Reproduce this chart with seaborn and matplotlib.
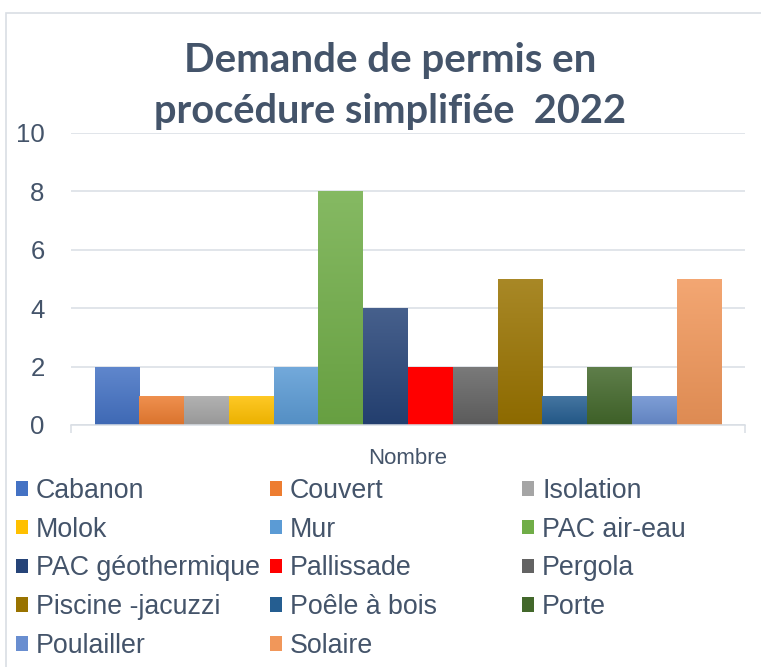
import numpy as np
import pandas as pd
import matplotlib
matplotlib.use("Agg")
import matplotlib.pyplot as plt
import matplotlib.patches as mpatches
from matplotlib.colors import LinearSegmentedColormap, to_rgb
import seaborn as sns

# ---- data ----
categories = ["Cabanon", "Couvert", "Isolation", "Molok", "Mur", "PAC air-eau",
              "PAC géothermique", "Pallissade", "Pergola", "Piscine -jacuzzi",
              "Poêle à bois", "Porte", "Poulailler", "Solaire"]
values = [2, 1, 1, 1, 2, 8, 4, 2, 2, 5, 1, 2, 1, 5]
series_label = "Nombre"
title_line1 = "Demande de permis en"
title_line2 = "procédure simplifiée  2022"
yticks = [0, 2, 4, 6, 8, 10]

# ---- style ----
base_colors = ["#4472C4", "#ED7D31", "#A5A5A5", "#FFC000", "#5B9BD5", "#70AD47",
               "#264478", "#FF0000", "#636363", "#997300", "#255E91", "#43682B",
               "#698ED0", "#F1975A"]
text_color = "#44546A"
grid_color = "#D9DEE4"

sns.set_theme(style="white")
plt.rcParams["font.family"] = ["Liberation Sans", "DejaVu Sans"]

W, H = 761, 667
fig = plt.figure(figsize=(W / 100, H / 100), dpi=100)
ax = fig.add_axes([71 / W, 1 - 425 / H, (745 - 71) / W, (425 - 133) / H])

df = pd.DataFrame({"serie": [series_label] * len(categories),
                   "categorie": categories, "valeur": values})
sns.barplot(data=df, x="serie", y="valeur", hue="categorie",
            hue_order=categories, palette=dict(zip(categories, base_colors)),
            width=0.93, saturation=1, legend=False, ax=ax, linewidth=0)

# gradient fill (Excel style) clipped to each bar
def mix(c, other, t):
    c = np.array(to_rgb(c)); o = np.array(to_rgb(other))
    return tuple(c * (1 - t) + o * t)

grad = np.linspace(0, 1, 256).reshape(-1, 1)
for patch, col in zip(ax.patches, base_colors):
    x, w, h = patch.get_x(), patch.get_width(), patch.get_height()
    if col.upper() == "#FF0000":
        continue
    cmap = LinearSegmentedColormap.from_list("g", [mix(col, "black", 0.08), mix(col, "white", 0.15)])
    im = ax.imshow(grad, extent=[x, x + w, 0, h], origin="lower", aspect="auto",
                   cmap=cmap, zorder=patch.get_zorder() + 0.1)
    im.set_clip_path(patch)

ax.set_xlim(-0.5, 0.5)
ax.set_ylim(0, 10)
ax.set_yticks(yticks)
ax.set_yticklabels([str(v) for v in yticks])
ax.set_xticks([0])
ax.set_xticklabels([series_label])
ax.set_xticks([-0.5, 0.5], minor=True)
ax.set_xlabel("")
ax.set_ylabel("")
ax.grid(axis="y", color=grid_color, linewidth=1.1, zorder=0)
ax.set_axisbelow(True)
for s in ["left", "right", "top"]:
    ax.spines[s].set_visible(False)
ax.spines["bottom"].set_color(grid_color)
ax.spines["bottom"].set_linewidth(1.1)
ax.tick_params(axis="y", length=0, pad=19, labelsize=18.5, labelcolor=text_color)
ax.tick_params(axis="x", which="major", length=0, pad=16.5, labelsize=16, labelcolor=text_color)
ax.tick_params(axis="x", which="minor", length=6, width=1.1, color=grid_color, bottom=True)

# title
fig.text(390 / W, 1 - 72 / H, title_line1, ha="center", va="baseline",
         fontsize=29, fontweight="bold", color=text_color, family="Lato")
fig.text(390 / W, 1 - 123 / H, title_line2, ha="center", va="baseline",
         fontsize=28.6, fontweight="bold", color=text_color, family="Lato")

# legend: row-major order in 3 columns
handles = [mpatches.Patch(facecolor=c, edgecolor="none") for c in base_colors]
col_x = [16, 270, 522]
for ci in range(3):
    idx = list(range(ci, len(categories), 3))
    fig.legend([handles[i] for i in idx], [categories[i] for i in idx],
               loc="upper left", bbox_to_anchor=(col_x[ci] / W, 1 - 478 / H),
               frameon=False, fontsize=19.3, labelcolor=text_color,
               handlelength=0.45, handleheight=0.45, handletextpad=0.3,
               labelspacing=0.475, borderpad=0, borderaxespad=0)

# chart frame (cropped)
fig.patches.append(mpatches.Rectangle((6 / W, -0.1), 2, 1.1 - 13 / H,
                                      transform=fig.transFigure, fill=False,
                                      edgecolor=grid_color, linewidth=1.2))

fig.savefig("out.png", dpi=100)
